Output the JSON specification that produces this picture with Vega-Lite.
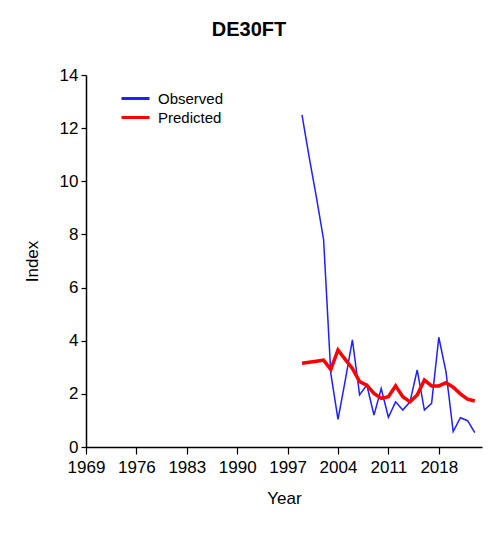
{
  "$schema": "https://vega.github.io/schema/vega-lite/v6.json",
  "width": 396,
  "height": 372,
  "autosize": {"type": "none"},
  "padding": {"left": 86, "top": 75, "right": 9, "bottom": 86},
  "background": "white",
  "title": {"text": "DE30FT", "font": "Liberation Sans", "fontSize": 20, "fontWeight": "bold", "color": "#000", "anchor": "middle", "dx": -35, "offset": 26},
  "datasets": {
    "obs": [
      {"Year": 1999, "Series": "Observed", "Index": 12.5},
      {"Year": 2000, "Series": "Observed", "Index": 10.9},
      {"Year": 2001, "Series": "Observed", "Index": 9.4},
      {"Year": 2002, "Series": "Observed", "Index": 7.8},
      {"Year": 2003, "Series": "Observed", "Index": 2.77},
      {"Year": 2004, "Series": "Observed", "Index": 1.04},
      {"Year": 2005, "Series": "Observed", "Index": 2.5},
      {"Year": 2006, "Series": "Observed", "Index": 4.03},
      {"Year": 2007, "Series": "Observed", "Index": 1.96},
      {"Year": 2008, "Series": "Observed", "Index": 2.33},
      {"Year": 2009, "Series": "Observed", "Index": 1.2},
      {"Year": 2010, "Series": "Observed", "Index": 2.2},
      {"Year": 2011, "Series": "Observed", "Index": 1.12},
      {"Year": 2012, "Series": "Observed", "Index": 1.7},
      {"Year": 2013, "Series": "Observed", "Index": 1.39},
      {"Year": 2014, "Series": "Observed", "Index": 1.7},
      {"Year": 2015, "Series": "Observed", "Index": 2.9},
      {"Year": 2016, "Series": "Observed", "Index": 1.39},
      {"Year": 2017, "Series": "Observed", "Index": 1.64},
      {"Year": 2018, "Series": "Observed", "Index": 4.13},
      {"Year": 2019, "Series": "Observed", "Index": 2.83},
      {"Year": 2020, "Series": "Observed", "Index": 0.58},
      {"Year": 2021, "Series": "Observed", "Index": 1.1},
      {"Year": 2022, "Series": "Observed", "Index": 0.99},
      {"Year": 2023, "Series": "Observed", "Index": 0.54}
    ],
    "pred": [
      {"Year": 1999, "Series": "Predicted", "Index": 3.15},
      {"Year": 2000, "Series": "Predicted", "Index": 3.19},
      {"Year": 2001, "Series": "Predicted", "Index": 3.23},
      {"Year": 2002, "Series": "Predicted", "Index": 3.27},
      {"Year": 2003, "Series": "Predicted", "Index": 2.92},
      {"Year": 2004, "Series": "Predicted", "Index": 3.65},
      {"Year": 2005, "Series": "Predicted", "Index": 3.3},
      {"Year": 2006, "Series": "Predicted", "Index": 2.96},
      {"Year": 2007, "Series": "Predicted", "Index": 2.46},
      {"Year": 2008, "Series": "Predicted", "Index": 2.33},
      {"Year": 2009, "Series": "Predicted", "Index": 2.02},
      {"Year": 2010, "Series": "Predicted", "Index": 1.83},
      {"Year": 2011, "Series": "Predicted", "Index": 1.89},
      {"Year": 2012, "Series": "Predicted", "Index": 2.3},
      {"Year": 2013, "Series": "Predicted", "Index": 1.89},
      {"Year": 2014, "Series": "Predicted", "Index": 1.7},
      {"Year": 2015, "Series": "Predicted", "Index": 1.96},
      {"Year": 2016, "Series": "Predicted", "Index": 2.52},
      {"Year": 2017, "Series": "Predicted", "Index": 2.3},
      {"Year": 2018, "Series": "Predicted", "Index": 2.3},
      {"Year": 2019, "Series": "Predicted", "Index": 2.42},
      {"Year": 2020, "Series": "Predicted", "Index": 2.25},
      {"Year": 2021, "Series": "Predicted", "Index": 2.0},
      {"Year": 2022, "Series": "Predicted", "Index": 1.8},
      {"Year": 2023, "Series": "Predicted", "Index": 1.73}
    ]
  },
  "encoding": {
    "x": {
      "field": "Year", "type": "quantitative",
      "scale": {"domain": [1969, 2024], "nice": false, "zero": false},
      "axis": {"title": "Year", "values": [1969, 1976, 1983, 1990, 1997, 2004, 2011, 2018], "format": "d", "grid": false, "tickSize": 7, "labelPadding": 5, "titlePadding": 15, "labelOverlap": false, "labelFlush": false}
    },
    "y": {
      "field": "Index", "type": "quantitative",
      "scale": {"domain": [0, 14], "nice": false},
      "axis": {"title": "Index", "values": [0, 2, 4, 6, 8, 10, 12, 14], "grid": false, "tickSize": 5, "labelPadding": 3, "titlePadding": 18, "labelOverlap": false}
    },
    "color": {
      "field": "Series", "type": "nominal",
      "scale": {"domain": ["Observed", "Predicted"], "range": ["#1f1fff", "#ff0000"]},
      "legend": {"title": null, "orient": "none", "legendX": 34, "legendY": 14, "symbolType": "stroke", "symbolSize": 784, "symbolStrokeWidth": 3, "labelFontSize": 15, "labelFont": "Liberation Sans", "labelColor": "#000", "labelOffset": 7, "rowPadding": 0, "clipHeight": 19, "padding": 0}
    }
  },
  "layer": [
    {"data": {"name": "obs"}, "mark": {"type": "line", "strokeWidth": 1.5}},
    {"data": {"name": "pred"}, "mark": {"type": "line", "strokeWidth": 3.5}}
  ],
  "config": {
    "view": {"stroke": null},
    "axis": {
      "domainColor": "#000", "domainWidth": 1.5, "tickColor": "#000", "tickWidth": 1.2,
      "labelFont": "Liberation Sans", "labelFontSize": 17, "labelColor": "#000",
      "titleFont": "Liberation Sans", "titleFontSize": 17, "titleFontWeight": "normal", "titleColor": "#000"
    }
  }
}
